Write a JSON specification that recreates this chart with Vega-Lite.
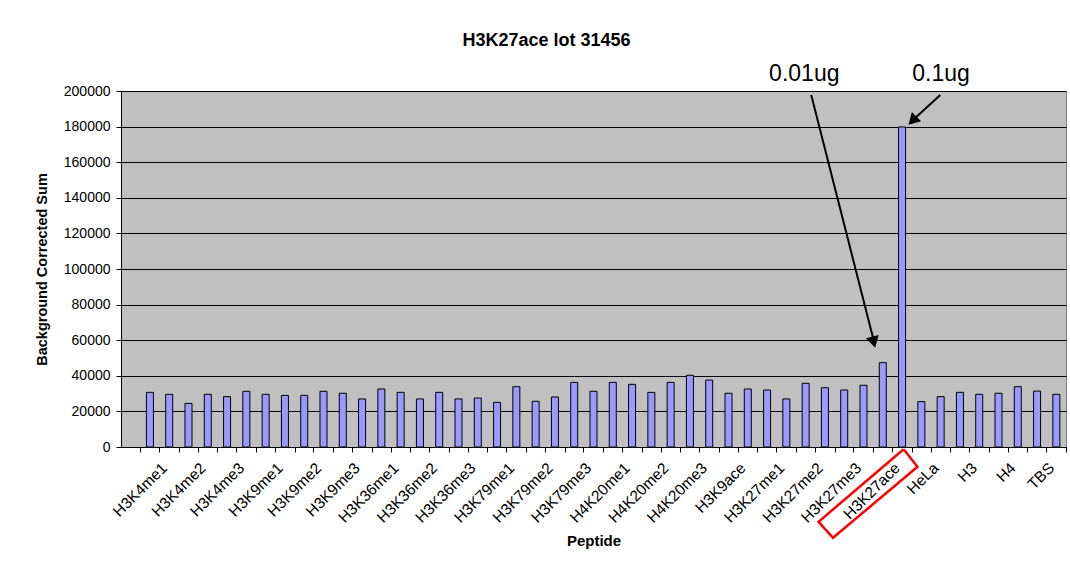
{
  "$schema": "https://vega.github.io/schema/vega-lite/v6.json",
  "width": 945,
  "height": 356,
  "autosize": {"type": "none"},
  "padding": {"left": 121, "top": 91, "right": 4, "bottom": 119},
  "background": "white",
  "config": {
    "font": "Liberation Sans",
    "view": {"fill": "#C0C0C0", "stroke": "#808080", "strokeWidth": 1},
    "axis": {"labelFont": "Liberation Sans", "titleFont": "Liberation Sans", "labelColor": "black", "titleColor": "black", "tickColor": "black", "domainColor": "black"}
  },
  "title": {"text": "H3K27ace lot 31456", "fontSize": 18, "fontWeight": "bold", "font": "Liberation Sans", "color": "black", "anchor": "middle", "frame": "group", "dx": -47, "offset": 13},
  "datasets": {
    "bars": [
      {"peptide": "H3K4me1", "amount": "0.01ug", "value": 30700},
      {"peptide": "H3K4me1", "amount": "0.1ug", "value": 29600},
      {"peptide": "H3K4me2", "amount": "0.01ug", "value": 24500},
      {"peptide": "H3K4me2", "amount": "0.1ug", "value": 29600},
      {"peptide": "H3K4me3", "amount": "0.01ug", "value": 28300},
      {"peptide": "H3K4me3", "amount": "0.1ug", "value": 31300},
      {"peptide": "H3K9me1", "amount": "0.01ug", "value": 29600},
      {"peptide": "H3K9me1", "amount": "0.1ug", "value": 29000},
      {"peptide": "H3K9me2", "amount": "0.01ug", "value": 29000},
      {"peptide": "H3K9me2", "amount": "0.1ug", "value": 31300},
      {"peptide": "H3K9me3", "amount": "0.01ug", "value": 30200},
      {"peptide": "H3K9me3", "amount": "0.1ug", "value": 27000},
      {"peptide": "H3K36me1", "amount": "0.01ug", "value": 32600},
      {"peptide": "H3K36me1", "amount": "0.1ug", "value": 30700},
      {"peptide": "H3K36me2", "amount": "0.01ug", "value": 27000},
      {"peptide": "H3K36me2", "amount": "0.1ug", "value": 30700},
      {"peptide": "H3K36me3", "amount": "0.01ug", "value": 27000},
      {"peptide": "H3K36me3", "amount": "0.1ug", "value": 27500},
      {"peptide": "H3K79me1", "amount": "0.01ug", "value": 25100},
      {"peptide": "H3K79me1", "amount": "0.1ug", "value": 33900},
      {"peptide": "H3K79me2", "amount": "0.01ug", "value": 25700},
      {"peptide": "H3K79me2", "amount": "0.1ug", "value": 28100},
      {"peptide": "H3K79me3", "amount": "0.01ug", "value": 36300},
      {"peptide": "H3K79me3", "amount": "0.1ug", "value": 31300},
      {"peptide": "H4K20me1", "amount": "0.01ug", "value": 36300},
      {"peptide": "H4K20me1", "amount": "0.1ug", "value": 35200},
      {"peptide": "H4K20me2", "amount": "0.01ug", "value": 30700},
      {"peptide": "H4K20me2", "amount": "0.1ug", "value": 36300},
      {"peptide": "H4K20me3", "amount": "0.01ug", "value": 40300},
      {"peptide": "H4K20me3", "amount": "0.1ug", "value": 37600},
      {"peptide": "H3K9ace", "amount": "0.01ug", "value": 30200},
      {"peptide": "H3K9ace", "amount": "0.1ug", "value": 32600},
      {"peptide": "H3K27me1", "amount": "0.01ug", "value": 32000},
      {"peptide": "H3K27me1", "amount": "0.1ug", "value": 27000},
      {"peptide": "H3K27me2", "amount": "0.01ug", "value": 35800},
      {"peptide": "H3K27me2", "amount": "0.1ug", "value": 33300},
      {"peptide": "H3K27me3", "amount": "0.01ug", "value": 32000},
      {"peptide": "H3K27me3", "amount": "0.1ug", "value": 34700},
      {"peptide": "H3K27ace", "amount": "0.01ug", "value": 47400},
      {"peptide": "H3K27ace", "amount": "0.1ug", "value": 179800},
      {"peptide": "HeLa", "amount": "0.01ug", "value": 25500},
      {"peptide": "HeLa", "amount": "0.1ug", "value": 28300},
      {"peptide": "H3", "amount": "0.01ug", "value": 30700},
      {"peptide": "H3", "amount": "0.1ug", "value": 29600},
      {"peptide": "H4", "amount": "0.01ug", "value": 30200},
      {"peptide": "H4", "amount": "0.1ug", "value": 33900},
      {"peptide": "TBS", "amount": "0.01ug", "value": 31400},
      {"peptide": "TBS", "amount": "0.1ug", "value": 29600}
    ],
    "notes": [
      {"label": "0.01ug", "x": 35.43, "y": 205600},
      {"label": "0.1ug", "x": 42.52, "y": 205600}
    ],
    "arrows": [
      {"label": "0.01ug", "x": 35.79, "y": 197700, "x2": 39.05, "y2": 59000, "hx": 39.03, "hy": 58900},
      {"label": "0.1ug", "x": 42.48, "y": 197700, "x2": 41.08, "y2": 183800, "hx": 41.04, "hy": 183300}
    ],
    "box": [
      {"ord": 1, "x": 40.58, "y": -1300},
      {"ord": 2, "x": 41.30, "y": -11100},
      {"ord": 3, "x": 36.92, "y": -51000},
      {"ord": 4, "x": 36.17, "y": -42000},
      {"ord": 5, "x": 40.58, "y": -1300}
    ]
  },
  "layer": [
    {
      "data": {"name": "bars"},
      "mark": {"type": "bar", "fill": "#9999FF", "stroke": "#000000", "strokeWidth": 1},
      "encoding": {
        "x": {
          "field": "peptide", "type": "nominal", "sort": null,
          "scale": {"paddingInner": 0, "paddingOuter": 0.25, "align": 1},
          "axis": {
            "orient": "bottom", "title": "Peptide", "titleFontSize": 15, "titleFontWeight": "bold", "titlePadding": 8,
            "labelAngle": -45, "labelAlign": "right", "labelBaseline": "middle", "labelFontSize": 15.5,
            "labelPadding": 13, "labelOffset": 5, "labelOverlap": false, "tickSize": 5, "grid": false
          }
        },
        "xOffset": {"field": "amount", "type": "nominal", "sort": ["0.01ug", "0.1ug"], "scale": {"paddingInner": 0.637, "paddingOuter": 0.3185}},
        "y": {
          "field": "value", "type": "quantitative",
          "scale": {"domain": [0, 200000], "nice": false},
          "axis": {
            "title": "Background Corrected Sum", "titleFontSize": 14.5, "titleFontWeight": "bold", "titlePadding": 14,
            "labelFontSize": 14, "labelPadding": 6, "tickSize": 5, "format": "d", "labelOverlap": false,
            "values": [0, 20000, 40000, 60000, 80000, 100000, 120000, 140000, 160000, 180000, 200000],
            "grid": true, "gridColor": "black", "gridWidth": 1, "gridOpacity": 1
          }
        }
      }
    },
    {
      "data": {"name": "bars"},
      "mark": {"type": "tick", "opacity": 0},
      "encoding": {
        "x": {
          "field": "peptide", "type": "nominal", "sort": null,
          "scale": {"paddingInner": 0, "paddingOuter": 0.25, "align": 1},
          "axis": {"orient": "bottom", "title": null, "labels": false, "domain": false, "tickBand": "extent", "tickSize": 5, "grid": false}
        },
        "y": {
          "field": "value", "type": "quantitative",
          "scale": {"domain": [0, 200000], "nice": false},
          "axis": {
            "title": "Background Corrected Sum", "titleFontSize": 14.5, "titleFontWeight": "bold", "titlePadding": 14,
            "labelFontSize": 14, "labelPadding": 6, "tickSize": 5, "format": "d", "labelOverlap": false,
            "values": [0, 20000, 40000, 60000, 80000, 100000, 120000, 140000, 160000, 180000, 200000],
            "grid": true, "gridColor": "black", "gridWidth": 1, "gridOpacity": 1
          }
        }
      }
    },
    {
      "data": {"name": "box"},
      "mark": {"type": "line", "stroke": "#FF0000", "strokeWidth": 2.5},
      "encoding": {
        "x": {"field": "x", "type": "quantitative", "scale": {"domain": [0, 49], "nice": false, "zero": false}, "axis": null},
        "y": {
          "field": "y", "type": "quantitative",
          "scale": {"domain": [0, 200000], "nice": false},
          "axis": {
            "title": "Background Corrected Sum", "titleFontSize": 14.5, "titleFontWeight": "bold", "titlePadding": 14,
            "labelFontSize": 14, "labelPadding": 6, "tickSize": 5, "format": "d", "labelOverlap": false,
            "values": [0, 20000, 40000, 60000, 80000, 100000, 120000, 140000, 160000, 180000, 200000],
            "grid": true, "gridColor": "black", "gridWidth": 1, "gridOpacity": 1
          }
        },
        "order": {"field": "ord", "type": "quantitative"}
      }
    },
    {
      "data": {"name": "arrows"},
      "mark": {"type": "rule", "stroke": "black", "strokeWidth": 2},
      "encoding": {
        "x": {"field": "x", "type": "quantitative", "scale": {"domain": [0, 49], "nice": false, "zero": false}, "axis": null},
        "y": {
          "field": "y", "type": "quantitative",
          "scale": {"domain": [0, 200000], "nice": false},
          "axis": {
            "title": "Background Corrected Sum", "titleFontSize": 14.5, "titleFontWeight": "bold", "titlePadding": 14,
            "labelFontSize": 14, "labelPadding": 6, "tickSize": 5, "format": "d", "labelOverlap": false,
            "values": [0, 20000, 40000, 60000, 80000, 100000, 120000, 140000, 160000, 180000, 200000],
            "grid": true, "gridColor": "black", "gridWidth": 1, "gridOpacity": 1
          }
        },
        "x2": {"field": "x2"},
        "y2": {"field": "y2"}
      }
    },
    {
      "data": {"name": "arrows"},
      "transform": [{"filter": "datum.label == '0.01ug'"}],
      "mark": {"type": "point", "shape": "triangle-down", "filled": true, "fill": "black", "opacity": 1, "size": 170, "angle": 346},
      "encoding": {
        "x": {"field": "hx", "type": "quantitative", "scale": {"domain": [0, 49], "nice": false, "zero": false}, "axis": null},
        "y": {
          "field": "hy", "type": "quantitative",
          "scale": {"domain": [0, 200000], "nice": false},
          "axis": {
            "title": "Background Corrected Sum", "titleFontSize": 14.5, "titleFontWeight": "bold", "titlePadding": 14,
            "labelFontSize": 14, "labelPadding": 6, "tickSize": 5, "format": "d", "labelOverlap": false,
            "values": [0, 20000, 40000, 60000, 80000, 100000, 120000, 140000, 160000, 180000, 200000],
            "grid": true, "gridColor": "black", "gridWidth": 1, "gridOpacity": 1
          }
        }
      }
    },
    {
      "data": {"name": "arrows"},
      "transform": [{"filter": "datum.label == '0.1ug'"}],
      "mark": {"type": "point", "shape": "triangle-down", "filled": true, "fill": "black", "opacity": 1, "size": 170, "angle": 45},
      "encoding": {
        "x": {"field": "hx", "type": "quantitative", "scale": {"domain": [0, 49], "nice": false, "zero": false}, "axis": null},
        "y": {
          "field": "hy", "type": "quantitative",
          "scale": {"domain": [0, 200000], "nice": false},
          "axis": {
            "title": "Background Corrected Sum", "titleFontSize": 14.5, "titleFontWeight": "bold", "titlePadding": 14,
            "labelFontSize": 14, "labelPadding": 6, "tickSize": 5, "format": "d", "labelOverlap": false,
            "values": [0, 20000, 40000, 60000, 80000, 100000, 120000, 140000, 160000, 180000, 200000],
            "grid": true, "gridColor": "black", "gridWidth": 1, "gridOpacity": 1
          }
        }
      }
    },
    {
      "data": {"name": "notes"},
      "mark": {"type": "text", "fontSize": 23, "font": "Liberation Sans", "fill": "black", "align": "center", "baseline": "alphabetic"},
      "encoding": {
        "x": {"field": "x", "type": "quantitative", "scale": {"domain": [0, 49], "nice": false, "zero": false}, "axis": null},
        "y": {
          "field": "y", "type": "quantitative",
          "scale": {"domain": [0, 200000], "nice": false},
          "axis": {
            "title": "Background Corrected Sum", "titleFontSize": 14.5, "titleFontWeight": "bold", "titlePadding": 14,
            "labelFontSize": 14, "labelPadding": 6, "tickSize": 5, "format": "d", "labelOverlap": false,
            "values": [0, 20000, 40000, 60000, 80000, 100000, 120000, 140000, 160000, 180000, 200000],
            "grid": true, "gridColor": "black", "gridWidth": 1, "gridOpacity": 1
          }
        },
        "text": {"field": "label"}
      }
    }
  ],
  "resolve": {"scale": {"x": "independent"}, "axis": {"x": "independent"}}
}
